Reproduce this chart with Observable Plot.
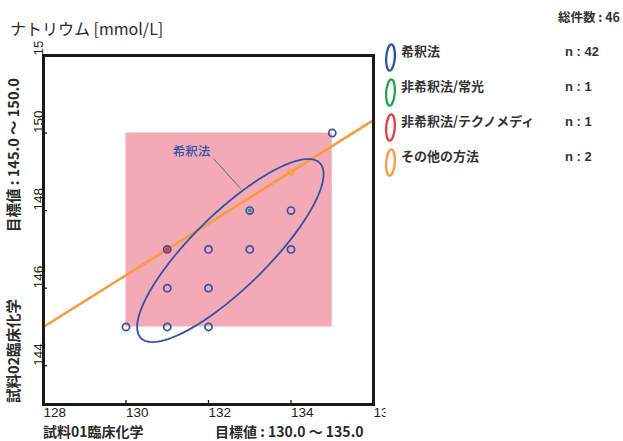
<!DOCTYPE html>
<html><head><meta charset="utf-8">
<script src="https://cdn.jsdelivr.net/npm/d3@7"></script>
<script src="https://cdn.jsdelivr.net/npm/@observablehq/plot@0.6"></script>
<style>body{margin:0;background:#fff}</style>
</head><body><div id="chart"></div>
<script>
// ---- data ----
const title = "ナトリウム [mmol/L]";
const xTicks = [128, 130, 132, 134, 136];
const yTicks = [144, 146, 148, 150, 152];
const xDomain = [128, 136];
const yDomain = [143, 152];
const xTarget = [130, 135];
const yTarget = [145, 150];
const blueX = [130, 131, 132, 131, 132, 131, 132, 133, 134, 133, 134, 135];
const blueY = [145, 145, 145, 146, 146, 147, 147, 147, 147, 148, 148, 150];
const greenX = [133], greenY = [148];
const redX = [131], redY = [147];
const orangeX = [131, 134], orangeY = [147, 149];
const ellipseCenter = [132.53, 146.97];
const ellipseSD = [2.26, 2.36];
const ellipseR = 0.835;
const annotLabel = "希釈法";
const annotPos = [131.59, 149.52];
const annotLeader = [[132.12, 149.34], [132.78, 148.57]];
const methods = ["希釈法", "非希釈法/常光", "非希釈法/テクノメディ", "その他の方法"];
const methodColors = ["#2e55a5", "#1fa84a", "#e63c46", "#f89c3a"];
const counts = [42, 1, 1, 2];
const total = 46;
const xTitle = ["試料01臨床化学", "目標値 : 130.0 ～ 135.0"];
const yTitle = ["試料02臨床化学", "目標値 : 145.0 ～ 150.0"];

// ---- derived ----
const blue = blueX.map((x, i) => ({x, y: blueY[i]}));
const green = greenX.map((x, i) => ({x, y: greenY[i]}));
const red = redX.map((x, i) => ({x, y: redY[i]}));
const orange = orangeX.map((x, i) => ({x, y: orangeY[i]}));
const phi = Math.acos(ellipseR);
const ell = d3.range(0, 121).map(k => {
  const t = k / 120 * 2 * Math.PI;
  return {x: ellipseCenter[0] + ellipseSD[0] * Math.cos(t),
          y: ellipseCenter[1] + ellipseSD[1] * Math.cos(t - phi)};
});
const slope = (orangeY[1] - orangeY[0]) / (orangeX[1] - orangeX[0]);
const orangeLine = xDomain.map(x => ({x, y: orangeY[0] + slope * (x - orangeX[0])}));

const BLUE = methodColors[0];
const tickFont = {fontFamily: "Liberation Sans, Arial, sans-serif", fontSize: 13.5, fill: "#222"};

const plot = Plot.plot({
  width: 623, height: 441,
  marginLeft: 43, marginRight: 250, marginTop: 55, marginBottom: 37,
  style: {background: "transparent", overflow: "visible"},
  x: {domain: xDomain, axis: null},
  y: {domain: yDomain, axis: null},
  marks: [
    Plot.rect([{x1: xTarget[0], x2: xTarget[1], y1: yTarget[0], y2: yTarget[1]}],
      {x1: "x1", x2: "x2", y1: "y1", y2: "y2", fill: "#f4a9b7"}),
    Plot.line(orangeLine, {x: "x", y: "y", stroke: methodColors[3], strokeWidth: 2.5, clip: "frame"}),
    Plot.line(ell, {x: "x", y: "y", stroke: BLUE, strokeWidth: 1.8, curve: "linear"}),
    Plot.line(annotLeader.map(([x, y]) => ({x, y})), {x: "x", y: "y", stroke: "#46507a", strokeWidth: 0.8}),
    Plot.text([annotLabel], {x: () => annotPos[0], y: () => annotPos[1], text: d => d,
      fill: BLUE, fontSize: 12.5, fontFamily: "Noto Sans CJK JP", fontWeight: 500}),
    Plot.dot(blue, {x: "x", y: "y", r: 3.6, stroke: BLUE, strokeWidth: 1.7, fill: "none"}),
    Plot.dot(green, {x: "x", y: "y", r: 2, fill: methodColors[1]}),
    Plot.dot(red, {x: "x", y: "y", r: 2.6, fill: methodColors[2]}),
    Plot.dot(orange.slice(1), {x: "x", y: "y", r: 3, stroke: methodColors[3], strokeWidth: 1.3, fill: "none"}),
    Plot.frame({stroke: "#1a1a1a", strokeWidth: 3}),
    Plot.axisX({ticks: xTicks, tickSize: -4, tickFormat: () => "", stroke: "#1a1a1a", strokeWidth: 1.3}),
    Plot.axisY({ticks: yTicks, tickSize: -4, tickFormat: () => "", stroke: "#1a1a1a", strokeWidth: 1.3}),
    Plot.text(xTicks, {x: d => d, text: d => String(d), frameAnchor: "bottom", textAnchor: "start",
      lineAnchor: "top", dy: 3, ...tickFont, className: "ticklab"}),
    Plot.text(yTicks, {y: d => d, text: d => String(d), frameAnchor: "left", textAnchor: "start",
      lineAnchor: "bottom", rotate: -90, dx: -1, ...tickFont, className: "ticklab"})
  ]
});

const svg = d3.select(plot);
// clip tick labels as in reference
const defs = svg.insert("defs", ":first-child");
defs.append("clipPath").attr("id", "tickclip").append("rect")
  .attr("x", 0).attr("y", 41).attr("width", 385).attr("height", 400);
svg.selectAll("g.ticklab").attr("clip-path", "url(#tickclip)");

const cjk = "'Noto Sans CJK JP', sans-serif";
function addText(opts) {
  const t = svg.append("text").attr("text-anchor", opts.anchor || "start")
    .style("font-family", opts.font || cjk)
    .style("font-size", (opts.size || 13) + "px")
    .style("font-weight", opts.weight || "normal")
    .style("fill", opts.fill || "#333")
    .text(opts.text);
  if (opts.rotate) t.attr("transform", `translate(${opts.x},${opts.y}) rotate(${opts.rotate})`);
  else t.attr("x", opts.x).attr("y", opts.y);
  return t;
}

addText({x: 10, y: 35, text: title, size: 16, fill: "#2a2a2a"});

// axis titles
addText({x: 43, y: 436.5, text: xTitle[0], size: 14, weight: "bold", fill: "#2a2a2a"});
addText({x: 215, y: 436.5, text: xTitle[1], size: 14, weight: "bold", fill: "#2a2a2a"});
addText({x: 19, y: 403, rotate: -90, text: yTitle[0], size: 14.5, weight: "bold", fill: "#2a2a2a"});
addText({x: 19, y: 232, rotate: -90, text: yTitle[1], size: 14.5, weight: "bold", fill: "#2a2a2a"});

// total
addText({x: 620, y: 22, anchor: "end", text: `総件数 : ${total}`, size: 12.5, weight: "bold"});

// legend
methods.forEach((m, i) => {
  const cy = 57.5 + i * 35;
  svg.append("ellipse").attr("cx", 390.5).attr("cy", cy).attr("rx", 4.3).attr("ry", 13.2)
    .attr("transform", `rotate(4 390.5 ${cy})`)
    .attr("fill", "none").attr("stroke", methodColors[i]).attr("stroke-width", 2.3);
  addText({x: 401, y: cy - 1.5, text: m, size: 13, weight: "bold"});
  addText({x: 565, y: cy - 1.5, text: `n : ${counts[i]}`, size: 13, weight: "bold",
    font: "Liberation Sans, Arial, sans-serif"});
});

document.getElementById("chart").appendChild(plot);
</script>
</body></html>
